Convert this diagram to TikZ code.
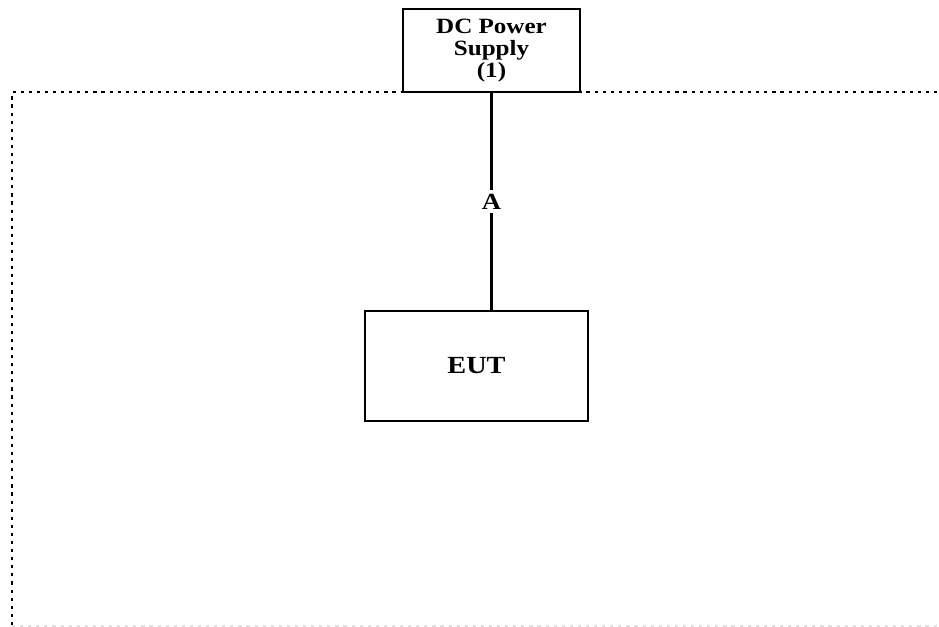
\documentclass[tikz,border=0pt]{standalone}
\usepackage{fontspec}
\setmainfont{Liberation Serif}
\newfontfamily\widefont{Liberation Serif}[FakeStretch=1.15]
\begin{document}
\begin{tikzpicture}[
  unitbox/.style={draw,line width=.8pt,inner sep=0pt,align=center,font=\widefont\bfseries\fontsize{6.2pt}{6.3pt}\selectfont},
  wire/.style={line width=.6pt},
  fence/.style={line width=.8pt,dash pattern=on .9pt off 1.4pt}
]
\useasboundingbox [fill=white] (0, 0) rectangle (9.39, 6.27);

\draw [fence] (.12, .02) -- (.12, 5.35) -- (9.39, 5.35);
\draw [fence,black!12] (.12, .01) -- (9.39, .01);

\node (dc) [unitbox,minimum width=1.77cm,minimum height=.83cm] at (4.915, 5.765) {DC Power\\Supply\\(1)};
\node (eut) [unitbox,minimum width=2.23cm,minimum height=1.1cm,font=\widefont\bfseries\fontsize{7pt}{9pt}\selectfont] at (4.765, 2.61) {EUT};

\draw [wire] (dc.south) -- (dc.south |- eut.north)
  node (a) [pos=.5,fill=white,inner sep=1pt,font=\widefont\bfseries\fontsize{6.6pt}{8pt}\selectfont] {A};
\end{tikzpicture}
\end{document}
